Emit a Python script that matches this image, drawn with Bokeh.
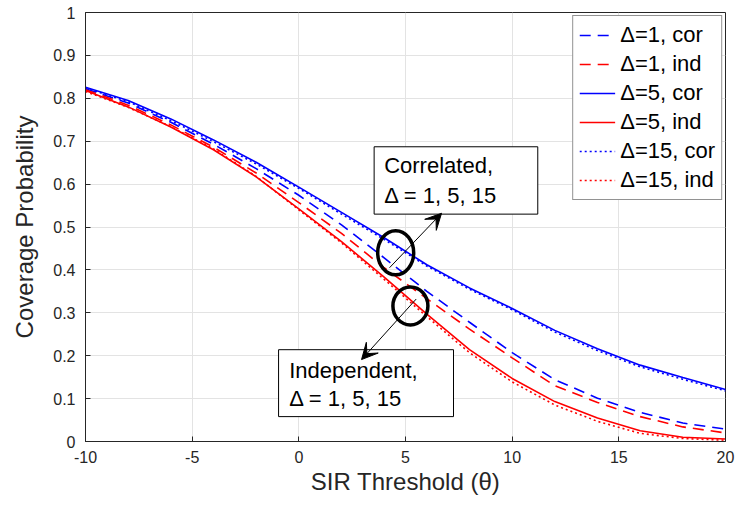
from bokeh.plotting import figure
from bokeh.models import (Range1d, FixedTicker, PrintfTickFormatter, Legend,
                          LegendItem, Arrow, VeeHead)
from bokeh.core.properties import value
from bokeh.embed import file_html
from bokeh.resources import INLINE

# ---- data ----
theta = [-10, -8, -6, -4, -2, 0, 2, 4, 6, 8, 10, 12, 14, 16, 18, 20]
d1_cor = [0.822, 0.789, 0.744, 0.693, 0.636, 0.574, 0.505, 0.428, 0.350, 0.278, 0.207, 0.144, 0.101, 0.068, 0.043, 0.029]
d1_ind = [0.820, 0.784, 0.738, 0.686, 0.626, 0.557, 0.485, 0.405, 0.333, 0.262, 0.195, 0.130, 0.091, 0.058, 0.034, 0.020]
d5_cor = [0.826, 0.795, 0.752, 0.703, 0.651, 0.593, 0.534, 0.475, 0.412, 0.358, 0.310, 0.259, 0.216, 0.178, 0.149, 0.121]
d5_ind = [0.818, 0.780, 0.733, 0.680, 0.617, 0.542, 0.466, 0.383, 0.297, 0.214, 0.147, 0.093, 0.055, 0.025, 0.010, 0.006]
d15_cor = [0.824, 0.792, 0.748, 0.699, 0.647, 0.590, 0.530, 0.471, 0.409, 0.355, 0.307, 0.255, 0.212, 0.174, 0.145, 0.118]
d15_ind = [0.816, 0.779, 0.734, 0.682, 0.618, 0.540, 0.463, 0.378, 0.291, 0.207, 0.139, 0.085, 0.047, 0.019, 0.007, 0.003]

x_ticks = [-10, -5, 0, 5, 10, 15, 20]
x_tick_labels = ["-10", "-5", "0", "5", "10", "15", "20"]
y_ticks = [0, 0.1, 0.2, 0.3, 0.4, 0.5, 0.6, 0.7, 0.8, 0.9, 1]

series_labels = ["Δ=1, cor", "Δ=1, ind", "Δ=5, cor", "Δ=5, ind", "Δ=15, cor", "Δ=15, ind"]

# annotations
ann1_text = ["Correlated,", "Δ = 1, 5, 15"]
ann2_text = ["Independent,", "Δ = 1, 5, 15"]

FONT = "Liberation Sans"
DARK = "#262626"
BLUE = "#0000ff"
RED = "#ff0000"

p = figure(width=735, height=497, x_range=Range1d(-10, 20), y_range=Range1d(0, 1),
           output_backend="svg", toolbar_location=None,
           min_border_left=85, min_border_right=10, min_border_top=12, min_border_bottom=50)
p.background_fill_color = "white"
p.border_fill_color = "white"
p.outline_line_color = DARK
p.outline_line_width = 1

for ax in (p.xaxis[0], p.yaxis[0]):
    ax.major_tick_in = 5
    ax.major_tick_out = 0
    ax.minor_tick_line_color = None
    ax.axis_line_color = DARK
    ax.major_tick_line_color = DARK
    ax.major_label_text_font = FONT
    ax.major_label_text_font_size = "16px"
    ax.major_label_text_color = DARK
    ax.axis_label_text_font = FONT
    ax.axis_label_text_font_size = "24px"
    ax.axis_label_text_font_style = "normal"
    ax.axis_label_text_color = DARK

p.xaxis.ticker = FixedTicker(ticks=x_ticks)
p.xaxis.major_label_overrides = {t: s for t, s in zip(x_ticks, x_tick_labels)}
p.yaxis.ticker = FixedTicker(ticks=y_ticks)
p.yaxis.formatter = PrintfTickFormatter(format="%g")
p.xaxis.major_label_standoff = 9
p.yaxis.major_label_standoff = 10
p.xaxis.axis_label = "SIR Threshold (θ)"
p.yaxis.axis_label = "Coverage Probability"
p.xaxis.axis_label_standoff = 2
p.yaxis.axis_label_standoff = 12

p.xgrid.grid_line_color = "#e3e3e3"
p.ygrid.grid_line_color = "#e3e3e3"
p.xgrid.grid_line_width = 1
p.ygrid.grid_line_width = 1

styles = [
    (d1_cor, BLUE, "11 7"),
    (d1_ind, RED, "11 7"),
    (d5_cor, BLUE, "solid"),
    (d5_ind, RED, "solid"),
    (d15_cor, BLUE, "2 3"),
    (d15_ind, RED, "2 3"),
]
renderers = []
for ys, col, dash in styles:
    r = p.line(theta, ys, line_color=col, line_width=1.6, line_dash=dash)
    renderers.append(r)

# ellipses
p.ellipse(x=[4.54], y=[0.44], width=36, height=44, width_units="screen", height_units="screen",
          fill_color=None, line_color="black", line_width=3.5)
p.ellipse(x=[5.23], y=[0.316], width=35, height=38, width_units="screen", height_units="screen",
          fill_color=None, line_color="black", line_width=3.5)

# arrows
p.add_layout(Arrow(end=VeeHead(size=16, fill_color="black", line_color="black"),
                   x_start=4.25, y_start=0.405, x_end=6.69, y_end=0.532,
                   line_color="black", line_width=1))
p.add_layout(Arrow(end=VeeHead(size=16, fill_color="black", line_color="black"),
                   x_start=5.5, y_start=0.332, x_end=2.94, y_end=0.191,
                   line_color="black", line_width=1))

# text boxes
p.quad(left=[3.53], right=[11.2], bottom=[0.530], top=[0.687],
       fill_color="white", line_color="black", line_width=1)
p.quad(left=[-0.95], right=[7.25], bottom=[0.058], top=[0.214],
       fill_color="white", line_color="black", line_width=1)
p.text(x=[4.0, 4.0], y=[0.643, 0.574], text=ann1_text, text_font=value(FONT),
       text_font_size="22px", text_baseline="middle", text_align="left", text_color="black")
p.text(x=[-0.45, -0.45], y=[0.166, 0.100], text=ann2_text, text_font=value(FONT),
       text_font_size="22px", text_baseline="middle", text_align="left", text_color="black")

legend = Legend(items=[LegendItem(label=lab, renderers=[r]) for lab, r in zip(series_labels, renderers)],
                location="top_right", margin=3, padding=6, spacing=3,
                glyph_width=36, glyph_height=26, label_height=26, label_standoff=5,
                label_text_font=FONT, label_text_font_size="22px", label_text_color="black",
                border_line_color=DARK, border_line_width=1, background_fill_color="white",
                background_fill_alpha=1.0)
p.add_layout(legend)

open("out.html", "w").write(file_html(p, INLINE))
